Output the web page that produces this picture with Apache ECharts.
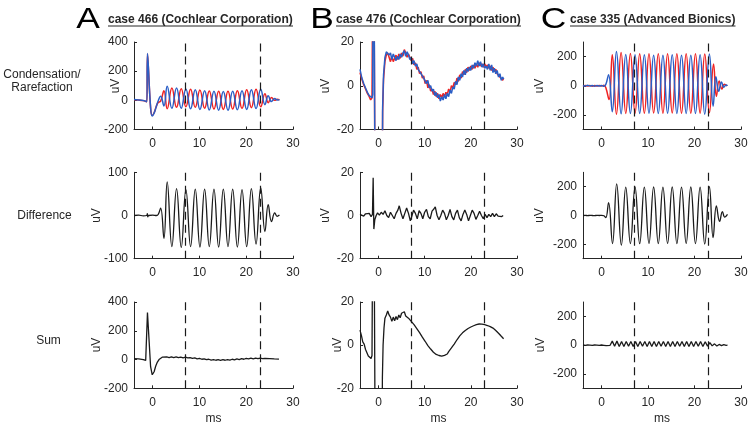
<!DOCTYPE html>
<html><head><meta charset="utf-8">
<script src="https://cdn.jsdelivr.net/npm/echarts@6/dist/echarts.min.js"></script>
<style>html,body{margin:0;padding:0;background:#fff}#c{width:752px;height:427px}</style>
</head><body><div id="c"></div>
<script>
const FONT = "'Liberation Sans', Arial, Helvetica, sans-serif";

// ---------- texts / ticks ----------
const xRange = [-4, 30];
const xTickValues = [0, 10, 20, 30];
const markerTimes = [7, 23];
const rowLabels = ['Condensation/\nRarefaction', 'Difference', 'Sum'];
const panelLetters = ['A', 'B', 'C'];
const panelTitles = ['case 466 (Cochlear Corporation)', 'case 476 (Cochlear Corporation)', 'case 335 (Advanced Bionics)'];
const xAxisTitle = 'ms';
const yAxisTitle = 'uV';

const yRangeA1 = [-200, 400], yTicksA1 = [-200, 0, 200, 400];
const yRangeA2 = [-100, 100], yTicksA2 = [-100, 0, 100];
const yRangeA3 = [-200, 400], yTicksA3 = [-200, 0, 200, 400];
const yRangeB = [-20, 20], yTicksB = [-20, 0, 20];
const yRangeC = [-300, 300], yTicksC = [-200, 0, 200];

// ---------- data: [ms, uV] ----------
const blueA1 = [[-4,5],[-3,3],[-2,-1],[-1.5,-6],[-1.25,-9],[-1.12,322],[-0.45,-50],[-0.1,-108],[0.3,-88],[0.7,-50],[1.1,-10],[1.7,28],[2.4,-38],[3.1,96],[4.1,-55],[5.1,84],[6.1,-55],[7.1,78],[8.1,-58],[9.1,72],[10.1,-62],[11.1,66],[12.1,-66],[13.1,62],[14.1,-68],[15.1,60],[16.1,-68],[17.1,62],[18.1,-65],[19.1,66],[20.1,-62],[21.1,72],[22.1,-56],[23.1,76],[24.0,-30],[24.7,32],[25.4,-8],[26.1,12],[26.6,3],[27.1,4]];
const redA1 = [[-4,4],[-3,2],[-2,-2],[-1.5,-7],[-1.25,-10],[-1.12,318],[-0.45,-52],[-0.1,-104],[0.3,-85],[0.7,-48],[1.1,-18],[1.7,-5],[2.4,66],[3.1,-58],[4.1,84],[5.1,-48],[6.1,80],[7.1,-44],[8.1,76],[9.1,-48],[10.1,70],[11.1,-54],[12.1,64],[13.1,-60],[14.1,62],[15.1,-62],[16.1,62],[17.1,-60],[18.1,66],[19.1,-55],[20.1,72],[21.1,-50],[22.1,76],[23.1,-44],[24.0,46],[24.7,-16],[25.4,20],[26.1,0],[26.6,7],[27.1,4]];
const diffA = [[-4,0],[-3,1],[-2,-1],[-1.3,0],[-1.15,4],[-1.05,-3],[-0.9,0],[0,1],[0.8,0],[1.2,3],[1.7,17],[2.4,-53],[3.1,78],[4.1,-72],[5.1,62],[6.1,-74],[7.1,60],[8.1,-72],[9.1,61],[10.1,-73],[11.1,61],[12.1,-72],[13.1,61],[14.1,-73],[15.1,61],[16.1,-72],[17.1,61],[18.1,-73],[19.1,60],[20.1,-72],[21.1,62],[22.1,-66],[23.1,64],[24.0,-37],[24.7,25],[25.4,-14],[26.1,6],[26.6,-2],[27.1,1]];
const sumA = [[-4,6],[-3,4],[-2,0],[-1.5,-6],[-1.25,-9],[-1.12,327],[-0.45,-50],[-0.1,-106],[0.3,-85],[0.65,-45],[1.0,-18],[1.35,0],[1.7,12],[2.1,17],[2.5,13],[3,18],[3.5,14],[4,19],[4.5,14],[5,18],[5.5,13],[6,17],[6.5,12],[7,16],[7.5,11],[8,14],[8.5,8],[9,11],[9.5,5],[10,8],[10.5,2],[11,5],[11.5,-1],[12,2],[12.5,-4],[13,0],[13.5,-5],[14,-1],[14.5,-6],[15,-1],[15.5,-5],[16,0],[16.5,-4],[17,2],[17.5,-2],[18,4],[18.5,0],[19,6],[19.5,2],[20,8],[20.5,4],[21,9],[21.5,5],[22,10],[22.5,6],[23,10],[23.5,6],[24,8],[25,6],[26,4],[27,3]];

const blueB1 = [[-4,7.5],[-3.6,3.5],[-3.2,1],[-2.8,-1],[-2.4,-3],[-2.0,-4.5],[-1.7,-5],[-1.4,-5.5],[-1.25,-4],[-1.1,120],[-0.6,-120],[0.7,-120],[0.9,-10],[1.1,5],[1.4,13],[1.7,15.5],[2.0,16],[2.3,14],[2.6,15],[2.9,12],[3.2,14.5],[3.5,13],[3.8,11.5],[4.1,13.5],[4.4,12],[4.7,14.5],[5.0,13],[5.3,15],[5.6,16],[5.9,13.5],[6.2,15.5],[6.5,14],[6.8,12],[7.1,13],[7.4,10],[7.7,11.5],[8.0,9],[8.3,10],[8.6,7.5],[8.9,8],[9.2,5.5],[9.5,6],[9.8,3.5],[10.1,4],[10.4,1],[10.7,2.5],[11.0,-1],[11.3,0],[11.6,-2.5],[11.9,-1.5],[12.2,-4.5],[12.5,-3],[12.8,-5.5],[13.1,-4],[13.4,-7],[13.7,-5],[14.0,-6.5],[14.3,-4],[14.6,-6],[14.9,-3.5],[15.2,-5],[15.5,-2],[15.8,-3.5],[16.1,-0.5],[16.4,-1.5],[16.7,2],[17.0,0.5],[17.3,4],[17.6,2.5],[17.9,5.5],[18.2,4],[18.5,7],[18.8,5],[19.1,8],[19.4,6.5],[19.7,8.5],[20.0,7],[20.3,9.5],[20.6,8],[20.9,10.5],[21.2,9],[21.5,11.5],[21.8,9],[22.1,11],[22.4,8.5],[22.7,10],[23.0,8],[23.3,9],[23.6,7.5],[23.9,10],[24.2,7],[24.5,9.5],[24.8,6],[25.1,8],[25.4,5.5],[25.7,7],[26.0,4],[26.3,5.5],[26.6,2.5],[26.9,4],[27.1,3]];
const redB1 = [[-4,6],[-3.6,3],[-3.2,0.5],[-2.8,-1.5],[-2.4,-3.5],[-2.0,-5],[-1.7,-6.5],[-1.4,-5.5],[-1.25,-5],[-1.1,100],[-0.6,-110],[0.7,-110],[0.9,-12],[1.1,3],[1.4,11],[1.7,14],[2.0,15],[2.3,13],[2.6,11],[2.9,13.5],[3.2,11],[3.5,12.5],[3.8,14],[4.1,12],[4.4,14.5],[4.7,12.5],[5.0,15],[5.3,13.5],[5.6,16.5],[5.9,15],[6.2,13],[6.5,14.5],[6.8,13],[7.1,11.5],[7.4,12.5],[7.7,9.5],[8.0,10.5],[8.3,7.5],[8.6,8.5],[8.9,5.5],[9.2,6.5],[9.5,3.5],[9.8,4.5],[10.1,1],[10.4,2.5],[10.7,-1],[11.0,0.5],[11.3,-2.5],[11.6,-1.5],[11.9,-4],[12.2,-2.5],[12.5,-5],[12.8,-3.5],[13.1,-6],[13.4,-4],[13.7,-5.5],[14.0,-3.5],[14.3,-5],[14.6,-3],[14.9,-4],[15.2,-1.5],[15.5,-3],[15.8,0],[16.1,-1],[16.4,1.5],[16.7,0.5],[17.0,3.5],[17.3,2],[17.6,5],[17.9,3.5],[18.2,6.5],[18.5,5],[18.8,7.5],[19.1,6],[19.4,8.5],[19.7,7],[20.0,9],[20.3,7.5],[20.6,9.5],[20.9,8],[21.2,10],[21.5,8.5],[21.8,10.5],[22.1,9],[22.4,10],[22.7,8.5],[23.0,10],[23.3,8.5],[23.6,9.5],[23.9,8],[24.2,9],[24.5,7],[24.8,8.5],[25.1,6.5],[25.4,7.5],[25.7,5.5],[26.0,6],[26.3,4],[26.6,4.5],[26.9,2.5],[27.1,3.5]];
const diffB = [[-4,0.5],[-3.6,1],[-3.2,-0.3],[-2.8,0.8],[-2.4,0],[-2,1],[-1.6,-0.5],[-1.3,0.5],[-1.15,17.5],[-1.0,-6.3],[-0.8,-2],[-0.5,0],[-0.2,1.2],[0.2,0.2],[0.6,1.5],[1.0,0.5],[1.4,2.2],[1.8,0],[2.2,-1],[2.6,1.5],[3.0,0],[3.4,-1.5],[3.8,1],[4.2,2.5],[4.5,4.5],[4.9,1],[5.3,-1.5],[5.7,1],[6.1,3.5],[6.5,1],[6.9,-2.5],[7.2,-0.5],[7.6,2.5],[8.0,1],[8.4,-1.5],[8.8,2.2],[9.2,1],[9.6,-1.5],[10.0,1.5],[10.4,2.8],[10.8,-0.5],[11.2,-1.5],[11.6,2],[12,3],[12.3,4],[12.7,0],[13.1,-2],[13.5,0],[13.9,2.5],[14.3,1],[14.7,-2],[15.1,0],[15.5,2.8],[15.9,-0.5],[16.3,-2],[16.7,1],[17.1,2.5],[17.5,-1],[17.9,-2.5],[18.3,0.5],[18.7,2.5],[19.1,0.5],[19.5,-2.5],[19.9,0],[20.3,2.5],[20.7,1],[21.1,-1.8],[21.5,0],[21.9,2],[22.3,0],[22.7,-1.5],[23.1,0.5],[23.5,-1],[23.9,0.5],[24.3,-0.5],[24.7,1],[25.1,-0.5],[25.5,0.8],[25.9,-0.3],[26.3,0.5],[26.7,-0.5],[27,0]];
const sumB = [[-4,7],[-3.7,4.5],[-3.4,1.5],[-3.1,0.5],[-2.8,-2],[-2.5,-2.5],[-2.2,-5],[-1.9,-4.5],[-1.6,-6.2],[-1.4,-4.8],[-1.25,-4],[-1.1,120],[-0.55,-120],[0.7,-120],[0.85,-15],[1.0,0],[1.2,8],[1.4,12.5],[1.7,14],[2.0,15.8],[2.3,14],[2.6,13],[2.9,11],[3.2,13],[3.5,11.3],[3.8,13.3],[4.1,11.8],[4.4,14],[4.7,12.7],[5.0,14.8],[5.3,14],[5.6,15.5],[5.9,13.5],[6.2,14],[6.5,12.5],[6.8,12.5],[7.1,11],[7.4,11.3],[7.7,9.5],[8.0,9.3],[8.3,7.7],[8.6,7.5],[8.9,5.8],[9.2,5.5],[9.5,3.7],[9.8,3.5],[10.1,1.8],[10.4,1.7],[10.7,-0.2],[11.0,-0.1],[11.3,-1.8],[11.6,-1.7],[11.9,-3.3],[12.2,-3.1],[12.5,-4.3],[12.8,-4.3],[13.1,-4.8],[13.4,-4.7],[13.7,-5.1],[14.0,-4.5],[14.3,-4.7],[14.6,-4.1],[14.9,-4.1],[15.2,-3],[15.5,-3],[15.8,-1.3],[16.1,-1.1],[16.4,0.5],[16.7,0.9],[17.0,2.5],[17.3,2.8],[17.6,4.3],[17.9,4.4],[18.2,5.7],[18.5,5.6],[18.8,6.8],[19.1,6.7],[19.4,7.7],[19.7,7.5],[20.0,8.4],[20.3,8.2],[20.6,9],[20.9,8.8],[21.2,9.5],[21.5,9.2],[21.8,9.8],[22.1,9.4],[22.4,9.7],[22.7,9.3],[23.0,9.5],[23.3,8.9],[23.6,9.1],[23.9,8.5],[24.2,8.6],[24.5,8.1],[24.8,7.9],[25.1,7],[25.4,6.8],[25.7,5.9],[26.0,5.5],[26.3,4.6],[26.6,4.1],[26.9,3.3],[27.1,3]];

const blueC1 = [[-4,2],[-3.5,-2],[-3,3],[-2.5,-1],[-2,2],[-1.5,-3],[-1,1],[-0.5,-2],[0,2],[0.5,-4],[0.9,8],[1.5,75],[2.3,-178],[3.2,235],[4.2,-192],[5.2,215],[6.2,-190],[7.2,212],[8.2,-190],[9.2,212],[10.2,-188],[11.2,210],[12.2,-190],[13.2,210],[14.2,-188],[15.2,212],[16.2,-190],[17.2,210],[18.2,-190],[19.2,210],[20.2,-190],[21.2,212],[22.2,-195],[23.2,218],[24.0,-140],[24.6,62],[25.2,-38],[25.8,25],[26.3,-10],[26.8,6],[27.1,0]];
const redC1 = [[-4,-1],[-3.5,2],[-3,-2],[-2.5,1],[-2,-3],[-1.5,2],[-1,-1],[-0.5,2],[0,-2],[0.5,3],[0.9,-12],[1.6,-95],[2.3,212],[3.2,-195],[4.2,228],[5.2,-190],[6.2,222],[7.2,-188],[8.2,220],[9.2,-188],[10.2,220],[11.2,-187],[12.2,220],[13.2,-188],[14.2,220],[15.2,-187],[16.2,220],[17.2,-188],[18.2,220],[19.2,-188],[20.2,220],[21.2,-188],[22.2,218],[23.2,-185],[24.1,150],[24.7,-72],[25.3,32],[25.9,-22],[26.4,10],[27.0,-2]];
const diffC = [[-4,0],[-3.5,1],[-3,-1],[-2.5,1],[-2,0],[-1.5,-1],[-1,1],[-0.5,0],[0,1],[0.5,-2],[0.9,-15],[1.5,90],[2.35,-195],[3.25,220],[4.25,-206],[5.2,197],[6.2,-195],[7.2,198],[8.2,-196],[9.2,197],[10.2,-194],[11.2,198],[12.2,-195],[13.2,197],[14.2,-194],[15.2,198],[16.2,-195],[17.2,197],[18.2,-194],[19.2,198],[20.2,-195],[21.2,197],[22.2,-198],[23.2,200],[24.0,-154],[24.7,66],[25.4,-41],[26.0,27],[26.5,-11],[27.1,8]];
const sumC = [[-4,1],[-3.5,-1],[-3,1],[-2.5,0],[-2,-1],[-1.5,1],[-1,0],[-0.5,-1],[0,1],[0.5,-1],[1.0,-4],[1.4,-10],[1.8,-2],[2.3,28],[2.8,-8],[3.3,28],[3.8,-9],[4.3,26],[4.8,-9],[5.3,26],[5.8,-8],[6.3,25],[6.8,-9],[7.3,26],[7.8,-9],[8.3,25],[8.8,-8],[9.3,26],[9.8,-9],[10.3,25],[10.8,-9],[11.3,26],[11.8,-9],[12.3,25],[12.8,-8],[13.3,26],[13.8,-9],[14.3,25],[14.8,-9],[15.3,26],[15.8,-9],[16.3,25],[16.8,-8],[17.3,26],[17.8,-9],[18.3,25],[18.8,-9],[19.3,26],[19.8,-9],[20.3,25],[20.8,-8],[21.3,26],[21.8,-9],[22.3,24],[22.8,-7],[23.3,18],[23.8,-5],[24.3,9],[24.8,-6],[25.3,5],[25.8,-3],[26.3,3],[26.8,-1],[27.1,0]];

// ---------- layout ----------
const RED = '#ef2222', BLUE = '#2a5ec6', BLACK = '#1a1a1a', AXIS = '#262626';
const cols = [{left:134,width:159},{left:360,width:157},{left:583,width:158}];
const rows = [{top:42,height:87.5},{top:172.3,height:86.4},{top:302,height:86.3}];

const yCfg = [
  [yRangeA1, yTicksA1], [yRangeB, yTicksB], [yRangeC, yTicksC],
  [yRangeA2, yTicksA2], [yRangeB, yTicksB], [yRangeC, yTicksC],
  [yRangeA3, yTicksA3], [yRangeB, yTicksB], [yRangeC, yTicksC]
];
const panelSeries = [
  [{d:redA1,c:RED,s:0.45,w:1.5},{d:blueA1,c:BLUE,s:0.45,w:1.5}],
  [{d:redB1,c:RED,s:0,w:1.5},{d:blueB1,c:BLUE,s:0,w:1.5}],
  [{d:redC1,c:RED,s:0.45,w:1.5},{d:blueC1,c:BLUE,s:0.45,w:1.5}],
  [{d:diffA,c:BLACK,s:0.45,w:1.3}],
  [{d:diffB,c:BLACK,s:0,w:1.3}],
  [{d:diffC,c:BLACK,s:0.45,w:1.3}],
  [{d:sumA,c:BLACK,s:0,w:1.3}],
  [{d:sumB,c:BLACK,s:0,w:1.3}],
  [{d:sumC,c:BLACK,s:0,w:1.3}]
];

const grids = [], xAxes = [], yAxes = [], series = [];
for (let r = 0; r < 3; r++) for (let c = 0; c < 3; c++) {
  const g = r * 3 + c;
  grids.push({left: cols[c].left, width: cols[c].width, top: rows[r].top, height: rows[r].height, containLabel: false});
  xAxes.push({
    type:'value', gridIndex:g, min:xRange[0], max:xRange[1],
    splitLine:{show:false},
    axisLine:{onZero:false, lineStyle:{color:AXIS, width:1}},
    axisTick:{inside:true, length:3, customValues:xTickValues, lineStyle:{color:AXIS}},
    axisLabel:{customValues:xTickValues, color:AXIS, fontSize:12, fontFamily:FONT, margin:8}
  });
  yAxes.push({
    type:'value', gridIndex:g, min:yCfg[g][0][0], max:yCfg[g][0][1],
    splitLine:{show:false},
    axisLine:{show:true, onZero:false, lineStyle:{color:AXIS, width:1}},
    axisTick:{show:true, inside:true, length:3, customValues:yCfg[g][1], lineStyle:{color:AXIS}},
    axisLabel:{customValues:yCfg[g][1], color:AXIS, fontSize:12, fontFamily:FONT, margin:6}
  });
  series.push({
    type:'line', xAxisIndex:g, yAxisIndex:g, data:[], z:1, silent:true,
    markLine:{silent:true, symbol:['none','none'], label:{show:false}, animation:false,
      lineStyle:{color:BLACK, type:[8,5], width:1.2},
      data: markerTimes.map(t => ({xAxis:t}))}
  });
  panelSeries[g].forEach(p => series.push({
    type:'line', xAxisIndex:g, yAxisIndex:g, data:p.d, z:2,
    showSymbol:false, smooth:p.s, clip:true, silent:true,
    lineStyle:{color:p.c, width:p.w}
  }));
}

const graphic = [];
const letterX = [88, 322, 553.5];
const titleX = [108, 336, 570];
const titleW = [185, 185, 165.5];
for (let c = 0; c < 3; c++) {
  graphic.push({type:'text', x:letterX[c], y:19.5, scaleX:1.22, style:{text:panelLetters[c], font:'29px '+FONT, fill:'#000', align:'center', verticalAlign:'middle', textAlign:'center', textVerticalAlign:'middle'}});
  graphic.push({type:'text', x:titleX[c], y:20, style:{text:panelTitles[c], font:'bold 12px '+FONT, fill:'#262626', align:'left', verticalAlign:'middle', textAlign:'left', textVerticalAlign:'middle'}});
  graphic.push({type:'line', shape:{x1:titleX[c], y1:26, x2:titleX[c]+titleW[c], y2:26}, style:{stroke:'#262626', lineWidth:1}});
  graphic.push({type:'text', x:cols[c].left + cols[c].width/2, y:418.5, style:{text:xAxisTitle, font:'12px '+FONT, fill:AXIS, align:'center', verticalAlign:'middle', textAlign:'center', textVerticalAlign:'middle'}});
}
const rowLabelPos = [[42,81.5],[44.5,216],[48.5,341]];
for (let r = 0; r < 3; r++) {
  graphic.push({type:'text', x:rowLabelPos[r][0], y:rowLabelPos[r][1], style:{text:rowLabels[r], font:'12px '+FONT, lineHeight:13, fill:AXIS, align:'center', verticalAlign:'middle', textAlign:'center', textVerticalAlign:'middle'}});
}
const uvPos = [[116,86],[326,86],[540,86],[97,215.5],[326,215.5],[540,215.5],[97,345],[338,345],[541,345]];
uvPos.forEach(p => graphic.push({type:'text', x:p[0], y:p[1], rotation:Math.PI/2, style:{text:yAxisTitle, font:'12px '+FONT, fill:AXIS, align:'center', verticalAlign:'middle', textAlign:'center', textVerticalAlign:'middle'}}));

const chart = echarts.init(document.getElementById('c'), null, {renderer:'canvas'});
chart.setOption({animation:false, backgroundColor:'#fff', grid:grids, xAxis:xAxes, yAxis:yAxes, series:series, graphic:graphic});
</script></body></html>
